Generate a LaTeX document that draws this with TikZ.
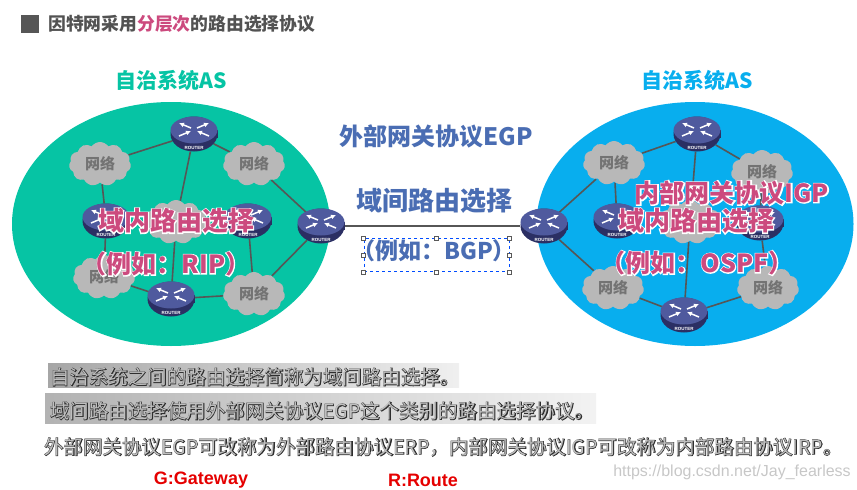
\documentclass[tikz,border=0pt]{standalone}
\usepackage{fontspec}
\setmainfont{Noto Sans CJK SC}
\newfontfamily\latinfont{Liberation Sans}
\usetikzlibrary{arrows.meta, backgrounds, shapes.geometric, shapes.symbols}
\definecolor{asgreen}{HTML}{06C4A4}
\definecolor{asblue}{HTML}{08AEEE}
\definecolor{labelblue}{HTML}{4A6DB3}
\definecolor{labelpink}{HTML}{CC4A7E}
\definecolor{routertop}{HTML}{4F5A9E}
\definecolor{routerside}{HTML}{2B2F63}
\definecolor{linkgray}{HTML}{565656}
\newcommand{\sized}[1]{\fontsize{#1}{#1}\selectfont\bfseries}
\newcommand{\halo}[1]{\leavevmode\rlap{\addfontfeature{FakeBold=8}\textcolor{white}{#1}}#1}
\newcommand{\edged}[1]{\leavevmode\rlap{\addfontfeature{FakeBold=5}\textcolor{black!82}{#1}}\textcolor{black!25}{#1}}
\tikzset{
    router/.pic={
        \node [ellipse, fill=routerside, minimum width=47, minimum height=35, inner sep=0] (-body) at (0,0) {};
        \fill [routerside] (-23.5,-4) rectangle (23.5,4);
        \fill [routertop] (0,-4) ellipse [x radius=23.5, y radius=13.5];
        \foreach \sx in {-1,1} {
            \draw [white, line width=1.5, -{Latex[length=5,width=5]}] (\sx*3,-6) -- (\sx*15,-11);
            \draw [white, line width=1.5, -{Latex[length=5,width=5]}] (\sx*15,2) -- (\sx*3,-3);
        }
        \node [white, inner sep=0] (-label) at (0,13.5) {\latinfont\bfseries\fontsize{4.5}{4.5}\selectfont ROUTER};
    },
    net/.style={cloud, cloud puffs=11, cloud puff arc=110, aspect=1.4, fill=black!28, text=black!55,
        minimum width=62, minimum height=44, inner sep=0, font=\sized{15}},
    conn/.style={linkgray, line width=1.6},
    aslabel/.style={font=\sized{21}},
    bluelabel/.style={text=labelblue, inner sep=0},
    pinklabel/.style={text=labelpink, inner sep=0},
    noteline/.style={inner sep=0, anchor=west, font=\fontsize{19.5}{19.5}\selectfont},
    redline/.style={text=red!90!black, inner sep=0, font=\latinfont\bfseries\fontsize{18}{18}\selectfont},
    handle/.style={draw=black!65, fill=white, minimum size=4, inner sep=0, line width=0.6},
}
\begin{document}
\begin{tikzpicture}[x=1pt, y=-1pt]
    \useasboundingbox (0,0) rectangle (857,490);

    % heading
    \node [fill=linkgray, minimum size=18, inner sep=0] (mark) at (30,24) {};
    \node [anchor=west, inner sep=0, text=black!68, font=\sized{17.8}] (title) at (48,24)
        {因特网采用\textcolor{labelpink}{分层次}的路由选择协议};
    \node [aslabel, text=asgreen, inner sep=0] (asleft) at (171,80) {自治系统AS};
    \node [aslabel, text=asblue, inner sep=0] (asright) at (697,80) {自治系统AS};

    % left system
    \node [net] (la) at (100,164) {网络};
    \node [net] (lb) at (254,164) {网络};
    \node [net] (lc) at (176,222) {};
    \node [net] (ld) at (104,277) {网络};
    \node [net] (le) at (254,294) {网络};
    \foreach \name/\x/\y in {rta/194/134, rtb/106/221, rtc/248/221, rtd/321/226, rte/171/299}
        \pic (\name) at (\x,\y) {router};

    % right system
    \node [net] (ra) at (614,163) {网络};
    \node [net] (rb) at (762,172) {网络};
    \node [net] (rc) at (690,222) {};
    \node [net] (rd) at (613,288) {网络};
    \node [net] (re) at (768,288) {网络};
    \foreach \name/\x/\y in {rtf/697/134, rtg/544/226, rth/617/221, rti/760/223, rtj/684/315}
        \pic (\name) at (\x,\y) {router};

    \begin{scope}[on background layer]
        \node [ellipse, fill=asgreen, minimum width=318, minimum height=244, inner sep=0] (asa) at (171,224) {};
        \node [ellipse, fill=asblue, minimum width=317, minimum height=244, inner sep=0] (asb) at (695,224) {};
        \foreach \a/\b in {rta-body/la, rta-body/lb, rta-body/lc, la/rtb-body, lb/rtd-body, rtd-body/le,
                rtb-body/ld, rtc-body/le, lc/rte-body, ld/rte-body, rte-body/le,
                rtf-body/ra, rtf-body/rb, rtf-body/rc, ra/rth-body, rb/rti-body, rtg-body/ra, rtg-body/rd,
                rti-body/re, rc/rtj-body, rd/rtj-body, re/rtj-body}
            \draw [conn] (\a) -- (\b);
        \draw [linkgray, line width=2.4] (rtd-body) -- (rtg-body);
    \end{scope}

    % labels over the systems
    \node [bluelabel, font=\sized{24}] (egp) at (436,136) {\halo{外部网关协议EGP}};
    \node [bluelabel, font=\sized{26}] (inter) at (434.5,201) {\halo{域间路由选择}};
    \node [draw=blue!70!cyan, dashed, line width=0.8, minimum width=145, minimum height=33, inner sep=0] (bgpbox) at (436.5,255) {};
    \foreach \a/\n in {north west/a, north/b, north east/c, east/d, south east/e, south/f, south west/g, west/h}
        \node [handle] (hd\n) at (bgpbox.\a) {};
    \node [bluelabel, font=\sized{23}] (bgp) at (434,251) {\halo{（例如：BGP）}};

    \node [pinklabel, font=\sized{26}] (intra) at (176,221) {\halo{域内路由选择}};
    \node [pinklabel, font=\sized{25}] (rip) at (166,264) {\halo{（例如：RIP）}};
    \node [pinklabel, font=\sized{25}] (igp) at (732,193) {\halo{内部网关协议IGP}};
    \node [pinklabel, font=\sized{26}] (intrb) at (696,221) {\halo{域内路由选择}};
    \node [pinklabel, font=\sized{25}] (ospf) at (697,263) {\halo{（例如：OSPF）}};

    % notes
    \fill [left color=black!35, right color=black!6] (48,363) rectangle (459,387);
    \fill [left color=black!30, right color=black!5] (45,393) rectangle (596,423);
    \node [noteline] (notea) at (50,377) {\edged{自治系统之间的路由选择简称为域间路由选择。}};
    \node [noteline] (noteb) at (50,411) {\edged{域间路由选择使用外部网关协议EGP这个类别的路由选择协议。}};
    \node [noteline] (notec) at (44,447) {\edged{外部网关协议EGP可改称为外部路由协议ERP，内部网关协议IGP可改称为内部路由协议IRP。}};
    \node [redline] (gate) at (201,480) {G:Gateway};
    \node [redline] (route) at (423,480) {R:Route};
    \node [text=black!22, inner sep=0, font=\latinfont\fontsize{16}{16}\selectfont] (site) at (732,472) {https://blog.csdn.net/Jay\_fearless};
\end{tikzpicture}
\end{document}
